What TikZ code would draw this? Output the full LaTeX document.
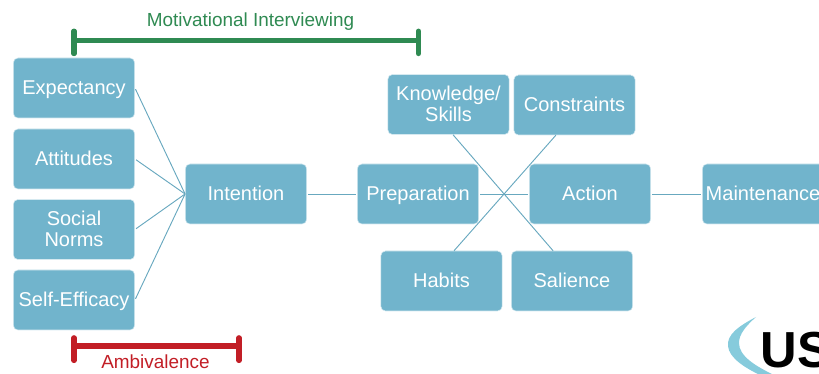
\documentclass[tikz,border=0pt]{standalone}
\usepackage{fontspec}
\setmainfont{Liberation Sans}
\definecolor{boxfill}{HTML}{71B4CC}
\definecolor{boxedge}{HTML}{D5E9F0}
\definecolor{linkc}{HTML}{68A8BF}
\definecolor{greenb}{HTML}{2F8A52}
\definecolor{redb}{HTML}{C21E26}
\definecolor{swoosh}{HTML}{86CBDC}
\newcommand{\ls}{\rule[-3.25pt]{0pt}{15.75pt}}
\tikzset{
  x=0.75pt,y=-0.75pt,
  stagebox/.style={draw=boxedge,line width=0.4pt,fill=boxfill,rounded corners=3.5pt,text=white,
    minimum width=91pt,minimum height=45pt,inner sep=0pt,align=center,
    font=\fontsize{15}{15.75}\selectfont},
  link/.style={draw=linkc,line width=0.7pt},
  barg/.style={draw=greenb,line width=3.8pt},
  tickg/.style={draw=greenb,line width=3.8pt,line cap=round},
  barr/.style={draw=redb,line width=3.8pt},
  tickr/.style={draw=redb,line width=3.8pt,line cap=round},
  lab/.style={inner sep=0pt,anchor=base,font=\fontsize{14.2}{16}\selectfont}
}
\begin{document}
\begin{tikzpicture}
\useasboundingbox (0,0) rectangle (819,374);
\clip (0,0) rectangle (819,374);
\node[stagebox] (exp) at (74,88) {\ls Expectancy};
\node[stagebox] (att) at (74,159) {\ls Attitudes};
\node[stagebox] (soc) at (74,229.5) {\ls Social\\\ls Norms};
\node[stagebox] (eff) at (74,300) {\ls Self-Efficacy};
\node[stagebox] (int) at (246,194) {\ls Intention};
\node[stagebox] (pre) at (418,194) {\ls Preparation};
\node[stagebox] (act) at (590,194) {\ls Action};
\node[stagebox] (mai) at (763,194) {\ls Maintenance};
\node[stagebox] (kno) at (448.5,104.5) {\ls Knowledge/\\\ls Skills};
\node[stagebox] (con) at (574.5,105) {\ls Constraints};
\node[stagebox] (hab) at (441.5,281) {\ls Habits};
\node[stagebox] (sal) at (572,281) {\ls Salience};
\foreach \a in {exp,att,soc,eff}
  \draw[link,shorten <=1pt] (\a.east) -- (int.west);
\draw[link,shorten <=1pt,shorten >=1pt] (int.east) -- (pre.west);
\draw[link,shorten <=1pt,shorten >=1pt] (pre.east) -- (act.west);
\draw[link,shorten <=1pt,shorten >=1pt] (act.east) -- (mai.west);
\draw[link] ([xshift=3.4pt]kno.south) -- ([xshift=-14.2pt]sal.north);
\draw[link] ([xshift=-14pt]con.south) -- ([xshift=9.4pt]hab.north);
\coordinate (ga) at (74,40.3);
\coordinate (gb) at (418.5,40.3);
\coordinate (ra) at (74,346);
\coordinate (rb) at (239,346);
\draw[barg] (ga) -- (gb);
\draw[tickg] ([yshift=6.9pt]ga) -- ([yshift=-10pt]ga);
\draw[tickg] ([yshift=6.9pt]gb) -- ([yshift=-10pt]gb);
\draw[barr] (ra) -- (rb);
\draw[tickr] ([yshift=6.2pt]ra) -- ([yshift=-10.9pt]ra);
\draw[tickr] ([yshift=6.2pt]rb) -- ([yshift=-10.9pt]rb);
\node[lab,text=greenb] (mi) at (250.5,26.7) {Motivational Interviewing};
\node[lab,text=redb] (am) at (155.5,368.3) {Ambivalence};
\fill[swoosh] (756,317) .. controls (737,327) and (727,335) .. (728,346)
  .. controls (729,358) and (745,368) .. (762,376) -- (776,376)
  .. controls (755,366) and (739,356) .. (739,343)
  .. controls (739,334) and (746,326) .. (756,317) -- cycle;
\node[anchor=base west,inner sep=0pt,font=\bfseries\fontsize{38}{38}\selectfont] (us) at (760.5,368) {US};
\end{tikzpicture}
\end{document}
